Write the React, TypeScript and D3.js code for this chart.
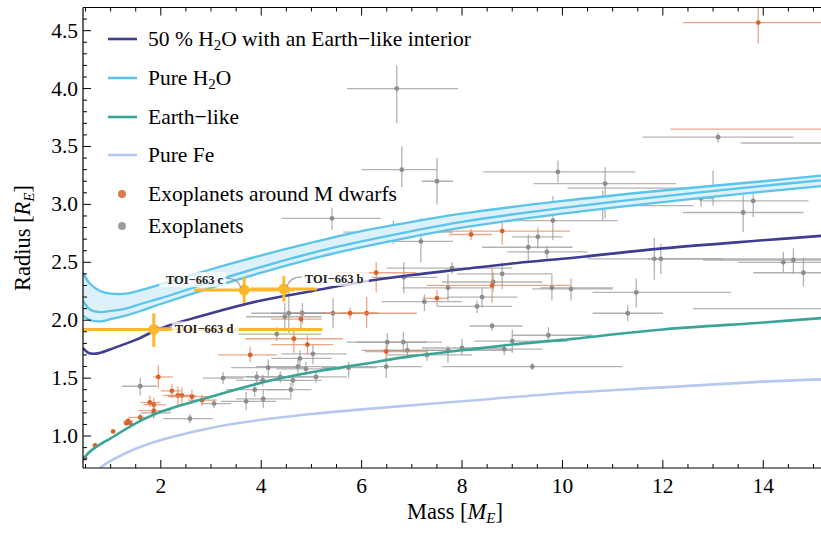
import React from "react";
import * as d3 from "d3";

// ---------------- data (mass [M_E], radius [R_E])
const h2oMass = [0.45, 0.6, 0.8, 1.0, 1.3, 1.6, 2, 3, 4, 5, 6, 7, 8, 10, 12, 14, 15.2];
const h2oTop = [2.41, 2.31, 2.25, 2.23, 2.23, 2.26, 2.31, 2.44, 2.56, 2.67, 2.77, 2.85, 2.92, 3.03, 3.12, 3.2, 3.25];
const h2oMid = [2.17, 2.09, 2.07, 2.08, 2.1, 2.14, 2.19, 2.33, 2.46, 2.58, 2.68, 2.77, 2.85, 2.97, 3.07, 3.16, 3.21];
const h2oBot = [2.04, 2.0, 1.99, 2.01, 2.04, 2.08, 2.14, 2.28, 2.41, 2.53, 2.63, 2.72, 2.8, 2.92, 3.02, 3.11, 3.16];

const mixCurve = [
  [0.45, 1.76], [0.55, 1.72], [0.65, 1.71], [0.8, 1.72], [1, 1.75], [1.5, 1.83], [2, 1.93],
  [3, 2.06], [4, 2.17], [5, 2.25], [6, 2.33], [7, 2.39], [8, 2.44], [9, 2.49], [10, 2.53],
  [12, 2.62], [14, 2.69], [15.2, 2.73],
];
const earthCurve = [
  [0.45, 0.8], [0.6, 0.87], [0.8, 0.93], [1, 0.98], [1.5, 1.11], [2, 1.21], [3, 1.34],
  [4, 1.46], [5, 1.55], [6, 1.62], [7, 1.69], [8, 1.74], [9, 1.79], [10, 1.83], [12, 1.92],
  [14, 1.98], [15.2, 2.02],
];
const feCurve = [
  [0.78, 0.72], [0.9, 0.76], [1.1, 0.81], [1.5, 0.89], [2, 0.965], [3, 1.07], [4, 1.14],
  [5, 1.19], [6, 1.23], [8, 1.3], [10, 1.37], [12, 1.42], [14, 1.47], [15.2, 1.49],
];

// [m, r, mLo, mHi, rLo, rHi]
const exoplanets = [
  [13.1, 3.58, 11.6, 14.6, 3.53, 3.62], [6.7, 4.0, 5.71, 7.92, 3.7, 4.2], [6.8, 3.3, 6.0, 7.5, 3.15, 3.5],
  [7.5, 3.2, 7.2, 7.82, 3.0, 3.4], [5.41, 2.88, 4.41, 6.38, 2.78, 2.97], [9.91, 3.28, 8.42, 11.45, 3.19, 3.38],
  [10.85, 3.18, 9.43, 12.26, 2.88, 3.32], [9.81, 2.86, 8.7, 11.1, 2.69, 3.07], [13.0, 3.14, 10.1, 13.4, 2.99, 3.29],
  [13.8, 3.03, 12.8, 14.9, 2.89, 3.18], [13.6, 2.93, 12.4, 14.8, 2.76, 3.08], [12.76, 3.05, 12.5, 13.0, 2.98, 3.12],
  [10.8, 2.99, 10.5, 12.6, 2.86, 3.12], [10.17, 2.27, 9.4, 11.0, 2.17, 2.36], [11.47, 2.24, 10.6, 13.36, 2.11, 2.36],
  [11.3, 2.06, 10.6, 12.0, 1.99, 2.13], [11.83, 2.53, 10.5, 13.2, 2.35, 2.71], [11.96, 2.53, 11.7, 15.2, 2.4, 2.66],
  [14.4, 2.5, 13.5, 16, 2.41, 2.59], [14.6, 2.52, 12.8, 16, 2.4, 2.62], [14.8, 2.41, 13.8, 16, 2.29, 2.54],
  [16.3, 3.53, 13.55, 19, 3.5, 3.56], [16.5, 2.1, 12.6, 20, 2.0, 2.2], [9.79, 2.28, 9.55, 11.0, 2.17, 2.39],
  [8.62, 2.33, 7.6, 9.6, 2.25, 2.41], [8.8, 2.4, 7.9, 9.8, 2.27, 2.5], [9.69, 2.59, 8.9, 10.5, 2.53, 2.64],
  [9.32, 2.63, 8.4, 10.2, 2.5, 2.74], [7.8, 2.45, 6.5, 9.0, 2.4, 2.5], [7.72, 2.28, 6.8, 8.6, 2.17, 2.4],
  [7.25, 2.16, 6.4, 8.0, 2.08, 2.22], [8.3, 2.12, 7.5, 9.0, 2.06, 2.17], [8.4, 2.2, 7.7, 9.1, 2.11, 2.28],
  [7.18, 2.68, 6.62, 7.82, 2.5, 2.88], [6.84, 2.37, 6.2, 7.5, 2.23, 2.5], [8.6, 1.95, 8.15, 9.2, 1.91, 1.98],
  [9.0, 1.82, 8.25, 10.1, 1.72, 1.92], [9.72, 1.87, 9.0, 10.6, 1.81, 1.94], [8.84, 1.75, 8.0, 9.6, 1.7, 1.8],
  [8.0, 1.76, 7.2, 8.8, 1.7, 1.84], [7.72, 1.74, 6.4, 9.0, 1.63, 1.78], [7.3, 1.7, 6.5, 8.2, 1.65, 1.75],
  [6.91, 1.74, 6.0, 7.8, 1.68, 1.81], [6.83, 1.81, 5.9, 7.6, 1.72, 1.9], [9.4, 1.6, 7.6, 11.2, 1.57, 1.63],
  [9.51, 2.72, 9.0, 10.0, 2.62, 2.8], [6.63, 2.76, 5.63, 7.82, 2.66, 2.86], [5.43, 2.06, 4.6, 6.3, 1.93, 2.19],
  [4.82, 2.06, 4.2, 5.4, 1.97, 2.15], [4.55, 2.06, 3.8, 5.3, 1.89, 2.28], [4.47, 2.03, 3.7, 5.2, 1.9, 2.15],
  [4.31, 1.88, 3.5, 5.2, 1.82, 1.94], [4.77, 1.67, 4.2, 5.4, 1.6, 1.74], [5.03, 1.71, 4.4, 5.7, 1.62, 1.79],
  [4.73, 1.6, 3.9, 5.5, 1.54, 1.66], [4.89, 1.58, 4.3, 5.6, 1.53, 1.64], [4.14, 1.59, 3.4, 4.9, 1.52, 1.66],
  [3.91, 1.51, 3.2, 4.6, 1.46, 1.56], [5.09, 1.51, 4.5, 5.7, 1.46, 1.56], [4.38, 1.51, 3.7, 5.1, 1.46, 1.56],
  [6.51, 1.81, 5.7, 7.3, 1.72, 1.89], [6.49, 1.6, 5.8, 7.2, 1.5, 1.68], [5.74, 1.59, 5.2, 6.3, 1.5, 1.64],
  [4.63, 1.48, 4.0, 5.2, 1.43, 1.53], [3.24, 1.5, 2.84, 3.64, 1.45, 1.55], [4.03, 1.48, 3.5, 4.7, 1.43, 1.53],
  [3.87, 1.4, 3.3, 4.5, 1.34, 1.46], [4.59, 1.4, 4.1, 5.0, 1.33, 1.46], [3.7, 1.3, 3.2, 4.3, 1.22, 1.38],
  [4.04, 1.32, 3.5, 4.6, 1.24, 1.4], [3.06, 1.28, 2.8, 3.4, 1.24, 1.32], [2.58, 1.15, 2.05, 3.04, 1.11, 1.19],
  [1.59, 1.43, 1.23, 1.92, 1.35, 1.5], [1.86, 1.2, 1.6, 2.2, 1.15, 1.26],
];

const mDwarfPlanets = [
  [8.6, 2.3, 7.3, 10.15, 2.15, 2.45], [7.5, 2.19, 7.22, 7.72, 2.12, 2.26], [8.18, 2.74, 7.74, 8.6, 2.69, 2.79],
  [8.8, 2.77, 7.4, 10.15, 2.65, 2.84], [6.29, 2.41, 5.5, 7.1, 2.24, 2.5], [6.1, 2.06, 5.6, 7.1, 1.93, 2.2],
  [5.77, 2.06, 5.2, 6.35, 2.01, 2.11], [4.79, 2.01, 4.2, 5.2, 1.91, 2.09], [4.65, 1.84, 3.68, 5.63, 1.72, 1.94],
  [4.92, 1.79, 4.2, 5.43, 1.7, 1.87], [3.78, 1.7, 3.14, 4.31, 1.64, 1.77], [6.49, 1.73, 6.07, 7.3, 1.66, 1.79],
  [1.95, 1.51, 1.85, 2.24, 1.41, 1.61], [2.22, 1.39, 2.0, 2.4, 1.33, 1.45], [2.34, 1.35, 2.05, 2.6, 1.26, 1.43],
  [2.42, 1.35, 2.15, 2.7, 1.27, 1.42], [2.62, 1.34, 2.14, 2.94, 1.28, 1.4], [2.82, 1.31, 2.54, 3.12, 1.26, 1.36],
  [1.78, 1.29, 1.6, 2.0, 1.25, 1.35], [1.86, 1.27, 1.65, 2.1, 1.22, 1.33], [1.86, 1.22, 1.55, 2.2, 1.16, 1.28],
  [1.59, 1.16, 1.35, 1.75, 1.13, 1.19], [1.35, 1.13, 1.25, 1.45, 1.11, 1.15], [1.31, 1.11, 1.28, 1.34, 1.1, 1.12],
  [1.39, 1.11, 1.36, 1.42, 1.1, 1.12], [1.05, 1.04, 1.05, 1.05, 1.04, 1.04], [0.69, 0.92, 0.69, 0.69, 0.92, 0.92],
  [0.49, 0.81, 0.49, 0.49, 0.81, 0.81], [13.9, 4.57, 12.4, 16, 4.39, 4.75], [16.5, 3.65, 12.15, 20, 3.6, 3.7],
];

const toi = [
  { name: "TOI\u2212663 d", m: 1.86, r: 1.92, mLo: -1.5, mHi: 5.22, rLo: 1.77, rHi: 2.06, side: "right", dy: 4 },
  { name: "TOI\u2212663 c", m: 3.66, r: 2.26, mLo: 2.66, mHi: 4.66, rLo: 2.15, rHi: 2.37, side: "left", dy: -6 },
  { name: "TOI\u2212663 b", m: 4.45, r: 2.27, mLo: 3.79, mHi: 5.11, rLo: 2.16, rHi: 2.38, side: "right", dy: -6 },
];

const xMajor = [2, 4, 6, 8, 10, 12, 14];
const yMajor = [1.0, 1.5, 2.0, 2.5, 3.0, 3.5, 4.0, 4.5];

const colors = {
  mix: "#3e3d8f",
  h2o: "#5ac4ea",
  h2oFill: "#dcf1fa",
  earth: "#3aa596",
  fe: "#b6c8ef",
  mdwarf: "#d9622b",
  mdwarfBar: "#e58a5e",
  exo: "#8c8c8c",
  exoBar: "#9a9a9a",
  toi: "#fdb72a",
};

const W = 821;
const H = 533;
const margin = { left: 83, top: 7.5, right: 821, bottom: 468 };
const font = "Liberation Serif, Tinos, Times New Roman, DejaVu Serif, serif";

export default function App() {
  const x = d3.scaleLinear().domain([0.45, 15.15]).range([margin.left, margin.right]);
  const y = d3.scaleLinear().domain([0.724, 4.7]).range([margin.bottom, margin.top]);

  const line = d3
    .line<number[]>()
    .x(d => x(d[0]))
    .y(d => y(d[1]))
    .curve(d3.curveCatmullRom.alpha(0.5));

  const h2oLine = (rs: number[]) => line(h2oMass.map((m, i) => [m, rs[i]]));
  const band = d3
    .area<number>()
    .x(d => x(d))
    .y0((d, i) => y(h2oBot[i]))
    .y1((d, i) => y(h2oTop[i]))
    .curve(d3.curveCatmullRom.alpha(0.5))(h2oMass);

  const xMinor = d3.range(0.5, 15.01, 0.5).filter(v => !xMajor.includes(v));
  const yMinor = d3.range(0.8, 4.71, 0.1).map(v => +v.toFixed(1)).filter(v => !yMajor.includes(v));

  const bars = (data: number[][], barColor: string, dotColor: string, key: string) =>
    data.map((d, i) => (
      <g key={key + i}>
        <line x1={x(d[2])} x2={x(d[3])} y1={y(d[1])} y2={y(d[1])} stroke={barColor} strokeWidth={1.3} opacity={0.75} />
        <line x1={x(d[0])} x2={x(d[0])} y1={y(d[4])} y2={y(d[5])} stroke={barColor} strokeWidth={1.3} opacity={0.75} />
        <circle cx={x(d[0])} cy={y(d[1])} r={2.4} fill={dotColor} />
      </g>
    ));

  const legend = [
    { label: ["50 % H", "2", "O with an Earth\u2212like interior"], color: colors.mix, y: 39 },
    { label: ["Pure H", "2", "O"], color: colors.h2o, y: 78 },
    { label: ["Earth\u2212like"], color: colors.earth, y: 117 },
    { label: ["Pure Fe"], color: colors.fe, y: 155 },
  ];

  return (
    <div style={{ position: "absolute", left: 0, top: 0 }}>
      <svg width={W} height={H} style={{ display: "block", background: "#fff", fontFamily: font }}>
        <defs>
          <clipPath id="plot">
            <rect x={margin.left} y={margin.top} width={margin.right - margin.left} height={margin.bottom - margin.top} />
          </clipPath>
        </defs>

        <g clipPath="url(#plot)">
          {bars(exoplanets, colors.exoBar, colors.exo, "e")}
          {bars(mDwarfPlanets, colors.mdwarfBar, colors.mdwarf, "m")}

          <path d={band || ""} fill={colors.h2oFill} />
          <path d={h2oLine(h2oTop) || ""} fill="none" stroke={colors.h2o} strokeWidth={2.3} />
          <path d={h2oLine(h2oMid) || ""} fill="none" stroke={colors.h2o} strokeWidth={2.3} />
          <path d={h2oLine(h2oBot) || ""} fill="none" stroke={colors.h2o} strokeWidth={2.3} />
          <path d={line(feCurve) || ""} fill="none" stroke={colors.fe} strokeWidth={2.6} />
          <path d={line(earthCurve) || ""} fill="none" stroke={colors.earth} strokeWidth={2.6} />
          <path d={line(mixCurve) || ""} fill="none" stroke={colors.mix} strokeWidth={2.6} />

          {toi.map(t => (
            <g key={t.name}>
              <line x1={x(t.mLo)} x2={x(t.mHi)} y1={y(t.r)} y2={y(t.r)} stroke={colors.toi} strokeWidth={3} />
              <line x1={x(t.m)} x2={x(t.m)} y1={y(t.rLo)} y2={y(t.rHi)} stroke={colors.toi} strokeWidth={3} />
              <circle cx={x(t.m)} cy={y(t.r)} r={5.5} fill={colors.toi} />
            </g>
          ))}

          {toi.map(t => {
            const px = x(t.m);
            const py = y(t.r);
            const right = t.side === "right";
            const tx = right ? px + 21 : px - 21;
            const ty = py + t.dy;
            const w = 61;
            const sx = right ? px + 18 : px - 18;
            const leader = `M${px + (right ? 3 : -3)},${py - 2} Q${px + (right ? 6 : -6)},${ty - 6} ${sx},${ty - 6}`;
            return (
              <g key={t.name + "l"}>
                <rect x={right ? tx - 3 : tx - w - 3} y={ty - 12} width={w + 6} height={15} fill="#fff" opacity={0.75} />
                <path d={leader} fill="none" stroke="#a0a0a0" strokeWidth={1.2} />
                <text x={tx} y={ty} fontSize={12.5} fontWeight="bold" textAnchor={right ? "start" : "end"} fill="#222">
                  {t.name}
                </text>
              </g>
            );
          })}
        </g>

        {/* frame */}
        <line x1={margin.left} x2={margin.left} y1={margin.top} y2={margin.bottom} stroke="#000" strokeWidth={1.2} />
        <line x1={margin.left} x2={W} y1={margin.bottom} y2={margin.bottom} stroke="#000" strokeWidth={1.2} />
        <line x1={margin.left} x2={W} y1={margin.top} y2={margin.top} stroke="#000" strokeWidth={1.2} />

        {/* x ticks */}
        {xMajor.map(v => (
          <g key={"xm" + v}>
            <line x1={x(v)} x2={x(v)} y1={margin.bottom} y2={margin.bottom - 8} stroke="#000" />
            <line x1={x(v)} x2={x(v)} y1={margin.top} y2={margin.top + 8} stroke="#000" />
            <text x={x(v)} y={margin.bottom + 25} fontSize={21.5} textAnchor="middle">{v}</text>
          </g>
        ))}
        {xMinor.map(v => (
          <g key={"xn" + v}>
            <line x1={x(v)} x2={x(v)} y1={margin.bottom} y2={margin.bottom - 4} stroke="#000" />
            <line x1={x(v)} x2={x(v)} y1={margin.top} y2={margin.top + 4} stroke="#000" />
          </g>
        ))}

        {/* y ticks */}
        {yMajor.map(v => (
          <g key={"ym" + v}>
            <line x1={margin.left} x2={margin.left + 8} y1={y(v)} y2={y(v)} stroke="#000" />
            <text x={margin.left - 5} y={y(v) + 7} fontSize={21.5} textAnchor="end">{v.toFixed(1)}</text>
          </g>
        ))}
        {yMinor.map(v => (
          <line key={"yn" + v} x1={margin.left} x2={margin.left + 4} y1={y(v)} y2={y(v)} stroke="#000" />
        ))}

        {/* axis titles */}
        <text x={455} y={519} fontSize={22.5} textAnchor="middle">
          Mass [<tspan fontStyle="italic">M</tspan>
          <tspan fontStyle="italic" fontSize={15} dy={4}>E</tspan>
          <tspan dy={-4}>]</tspan>
        </text>
        <text transform="translate(30,238) rotate(-90)" fontSize={22.5} textAnchor="middle">
          Radius [<tspan fontStyle="italic">R</tspan>
          <tspan fontStyle="italic" fontSize={15} dy={4}>E</tspan>
          <tspan dy={-4}>]</tspan>
        </text>

        {/* legend */}
        {legend.map(l => (
          <g key={l.y}>
            <line x1={108} x2={137} y1={l.y} y2={l.y} stroke={l.color} strokeWidth={2.6} />
            <text x={148} y={l.y + 7} fontSize={21.5}>
              {l.label.length === 1 ? (
                l.label[0]
              ) : (
                <>
                  {l.label[0]}
                  <tspan fontSize={15} dy={4}>{l.label[1]}</tspan>
                  <tspan dy={-4}>{l.label[2]}</tspan>
                </>
              )}
            </text>
          </g>
        ))}
        <circle cx={122} cy={194} r={4} fill={colors.mdwarf} opacity={0.85} />
        <text x={148} y={201} fontSize={21.5}>Exoplanets around M dwarfs</text>
        <circle cx={122} cy={226} r={4} fill={colors.exo} opacity={0.85} />
        <text x={148} y={233} fontSize={21.5}>Exoplanets</text>
      </svg>
    </div>
  );
}
